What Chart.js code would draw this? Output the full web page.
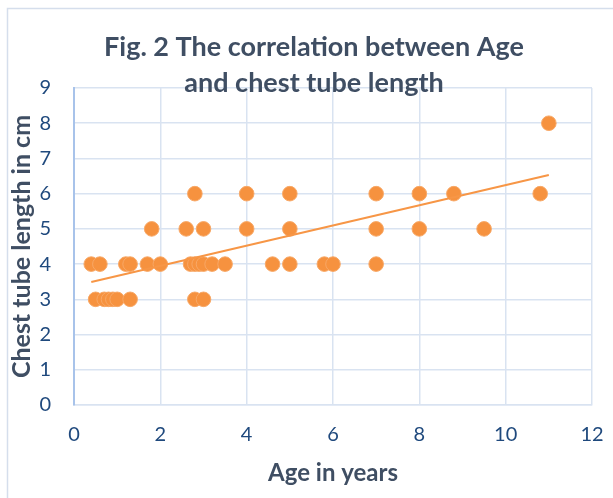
<!DOCTYPE html>
<html>
<head>
<meta charset="utf-8">
<script src="https://cdn.jsdelivr.net/npm/chart.js@4/dist/chart.umd.min.js"></script>
<style>
html,body{margin:0;padding:0;background:#fff;}
#wrap{width:613px;height:498px;position:relative;}
</style>
</head>
<body>
<div id="wrap"><canvas id="c"></canvas></div>
<script>
// Data
const ages3 = [0.5, 0.7, 0.8, 0.9, 1.0, 1.3, 2.8, 3.0];
const ages4 = [0.4, 0.6, 1.2, 1.3, 1.7, 2.0, 2.7, 2.8, 2.9, 3.0, 3.2, 3.5, 4.6, 5.0, 5.8, 6.0, 7.0];
const ages5 = [1.8, 2.6, 3.0, 4.0, 5.0, 7.0, 8.0, 9.5];
const ages6 = [2.8, 4.0, 5.0, 7.0, 8.0, 8.8, 10.8];
const ages8 = [11.0];
const trendAge = [0.4, 11.0];
const trendLength = [3.49, 6.53];
const xTicks = [0, 2, 4, 6, 8, 10, 12];
const yTicks = [0, 1, 2, 3, 4, 5, 6, 7, 8, 9];

const points = [];
ages3.forEach(a => points.push({x: a, y: 3}));
ages4.forEach(a => points.push({x: a, y: 4}));
ages5.forEach(a => points.push({x: a, y: 5}));
ages6.forEach(a => points.push({x: a, y: 6}));
ages8.forEach(a => points.push({x: a, y: 8}));
const trend = trendAge.map((a, i) => ({x: a, y: trendLength[i]}));

const frame = {
  id: 'frame',
  beforeDraw(chart) {
    const ctx = chart.ctx;
    ctx.save();
    ctx.fillStyle = '#ffffff';
    ctx.fillRect(0, 0, chart.width, chart.height);
    ctx.strokeStyle = '#D5DEEC';
    ctx.lineWidth = 1.5;
    ctx.beginPath();
    ctx.moveTo(7.5, chart.height);
    ctx.lineTo(7.5, 8.5);
    ctx.lineTo(chart.width, 8.5);
    ctx.stroke();
    ctx.restore();
  }
};

const titleColor = '#3F4E63';
const tickColor = '#1F497D';

new Chart(document.getElementById('c'), {
  type: 'scatter',
  data: {
    datasets: [
      {
        type: 'line',
        data: trend,
        borderColor: '#F79646',
        borderWidth: 2,
        pointRadius: 0,
        fill: false
      },
      {
        data: points,
        backgroundColor: '#F6923F',
        borderColor: '#F8A866',
        borderWidth: 1,
        pointRadius: 7.3,
        pointHoverRadius: 7.3
      }
    ]
  },
  plugins: [frame],
  options: {
    responsive: true,
    maintainAspectRatio: false,
    animation: false,
    layout: {padding: {left: 15, right: 0, top: 0, bottom: 0}},
    plugins: {
      legend: {display: false},
      tooltip: {enabled: false},
      title: {
        display: true,
        text: ['Fig. 2 The correlation between Age', 'and chest tube length'],
        color: titleColor,
        font: {family: 'Lato', size: 27, weight: 'bold', lineHeight: 36 / 27},
        padding: {top: 29, bottom: -13}
      }
    },
    scales: {
      x: {
        type: 'linear',
        min: 0, max: 12,
        afterBuildTicks(s) { s.ticks = xTicks.map(v => ({value: v})); },
        afterFit(s) { s.height = 93; s.paddingRight = 21; s.paddingLeft = 0; },
        grid: {color: '#D9E3F1', lineWidth: 1.5, drawTicks: false},
        border: {color: '#D9E3F1', width: 1.5},
        ticks: {color: tickColor, font: {family: 'Lato', size: 20}, padding: 18},
        title: {
          display: true,
          text: 'Age in years',
          color: titleColor,
          font: {family: 'Lato', size: 24, weight: 'bold'},
          padding: {top: 0, bottom: 10}
        }
      },
      y: {
        type: 'linear',
        min: 0, max: 9,
        afterBuildTicks(s) { s.ticks = yTicks.map(v => ({value: v})); },
        afterFit(s) { s.width = 59; },
        grid: {color: '#D9E3F1', lineWidth: 1.5, drawTicks: false},
        border: {color: '#A8C3EA', width: 2},
        ticks: {color: tickColor, font: {family: 'Lato', size: 20}, padding: 23},
        title: {
          display: true,
          text: 'Chest tube length in cm',
          color: titleColor,
          font: {family: 'Lato', size: 25, weight: 'bold'},
          padding: {top: -8, bottom: 0}
        }
      }
    }
  }
});
</script>
</body>
</html>
